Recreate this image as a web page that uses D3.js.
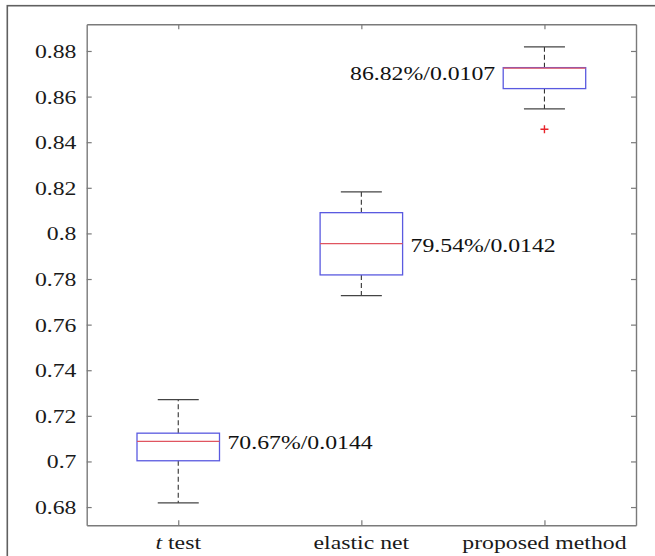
<!DOCTYPE html>
<html><head><meta charset="utf-8">
<script src="https://cdn.jsdelivr.net/npm/d3@7"></script>
<style>body{margin:0;background:#fff}svg{display:block}text{font-family:"Liberation Serif","Times New Roman",serif}</style>
</head><body><div id="chart"></div>
<script>
const categories = ["t test", "elastic net", "proposed method"];
const q1 = [0.7003, 0.7818, 0.8635];
const medians = [0.7088, 0.7955, 0.8725];
const q3 = [0.7124, 0.8091, 0.8727];
const whiskerLow = [0.6818, 0.7727, 0.8546];
const whiskerHigh = [0.7271, 0.8182, 0.8818];
const outliers = [[], [], [0.8457]];
const annotations = ["70.67%/0.0144", "79.54%/0.0142", "86.82%/0.0107"];
const yTicks = [0.68, 0.70, 0.72, 0.74, 0.76, 0.78, 0.80, 0.82, 0.84, 0.86, 0.88];

const W = 655, H = 556;
const m = {left: 86.7, right: 636, top: 24.3, bottom: 525.3};
const SX = 1.2;       // horizontal stretch of the reference text
const FS = 19.8;
const svg = d3.select("#chart").append("svg").attr("width", W).attr("height", H);

// outer frame
svg.append("rect").attr("x", 7.3).attr("y", 5.7).attr("width", 700).attr("height", 600)
  .attr("fill", "none").attr("stroke", "#606060").attr("stroke-width", 1.6);

const x = d3.scaleLinear().domain([0.5, 3.5]).range([m.left, m.right]);
const y = d3.scaleLinear().domain([0.6720, 0.8917]).range([m.bottom, m.top]);

const axisColor = "#7a7a7a";
const fmt = d => String(+d.toFixed(2));
const idx = categories.map((c, i) => i + 1);

function stretchedText(parent, px, py, anchor) {
  return parent.append("text")
    .attr("transform", `translate(${px},${py}) scale(${SX},1)`)
    .attr("text-anchor", anchor).attr("font-size", FS)
    .attr("font-family", "Liberation Serif").attr("fill", "#1a1a1a");
}

// axes
const gL = svg.append("g").attr("transform", `translate(${m.left},0)`)
  .call(d3.axisLeft(y).tickValues(yTicks).tickFormat("").tickSizeInner(-5).tickSizeOuter(0));
const gR = svg.append("g").attr("transform", `translate(${m.right},0)`)
  .call(d3.axisRight(y).tickValues(yTicks).tickFormat("").tickSizeInner(-5).tickSizeOuter(0));
const gB = svg.append("g").attr("transform", `translate(0,${m.bottom})`)
  .call(d3.axisBottom(x).tickValues(idx).tickFormat("").tickSizeInner(-5).tickSizeOuter(0));
const gT = svg.append("g").attr("transform", `translate(0,${m.top})`)
  .call(d3.axisTop(x).tickValues(idx).tickFormat("").tickSizeInner(-5).tickSizeOuter(0));
[gL, gR, gB, gT].forEach(g => {
  g.select(".domain").attr("stroke", axisColor).attr("stroke-width", 1.4);
  g.selectAll(".tick line").attr("stroke", axisColor).attr("stroke-width", 1.2);
});

// y tick labels
const yl = svg.append("g");
yTicks.forEach(v => {
  stretchedText(yl, 76.5, y(v), "end").attr("dy", "0.35em").text(fmt(v));
});

// x labels
const xl = svg.append("g");
categories.forEach((c, i) => {
  const t = stretchedText(xl, x(i + 1), 549, "middle");
  if (c.startsWith("t ")) {
    t.append("tspan").attr("font-style", "italic").text("t");
    t.append("tspan").text(c.slice(1));
  } else t.text(c);
});

// boxes
const boxW = 82.5, capW = 41;
const g = svg.append("g");
idx.forEach((k, i) => {
  const cx = x(k);
  g.append("line").attr("x1", cx).attr("x2", cx).attr("y1", y(q3[i])).attr("y2", y(whiskerHigh[i]))
    .attr("stroke", "#333").attr("stroke-width", 1.1).attr("stroke-dasharray", "5,3");
  g.append("line").attr("x1", cx).attr("x2", cx).attr("y1", y(q1[i])).attr("y2", y(whiskerLow[i]))
    .attr("stroke", "#333").attr("stroke-width", 1.1).attr("stroke-dasharray", "5,3");
  [whiskerHigh[i], whiskerLow[i]].forEach(v => {
    g.append("line").attr("x1", cx - capW / 2).attr("x2", cx + capW / 2).attr("y1", y(v)).attr("y2", y(v))
      .attr("stroke", "#444").attr("stroke-width", 1.2);
  });
  g.append("rect").attr("x", cx - boxW / 2).attr("y", y(q3[i])).attr("width", boxW)
    .attr("height", y(q1[i]) - y(q3[i])).attr("fill", "none").attr("stroke", "#5a5ae0").attr("stroke-width", 1.3);
  g.append("line").attr("x1", cx - boxW / 2).attr("x2", cx + boxW / 2).attr("y1", y(medians[i])).attr("y2", y(medians[i]))
    .attr("stroke", "#e05560").attr("stroke-width", 1.3);
  outliers[i].forEach(v => {
    g.append("path").attr("d", `M${cx - 4},${y(v)}H${cx + 4}M${cx},${y(v) - 4}V${y(v) + 4}`)
      .attr("stroke", "#e8232a").attr("stroke-width", 1.4);
  });
  const left = i === 2;
  stretchedText(g,
      left ? cx - boxW / 2 - 8 : cx + boxW / 2 + 8,
      left ? (y(q1[i]) + y(q3[i])) / 2 - 5 : y(medians[i]) + 1,
      left ? "end" : "start")
    .attr("dy", "0.35em").attr("fill", "#111").text(annotations[i]);
});
</script></body></html>
